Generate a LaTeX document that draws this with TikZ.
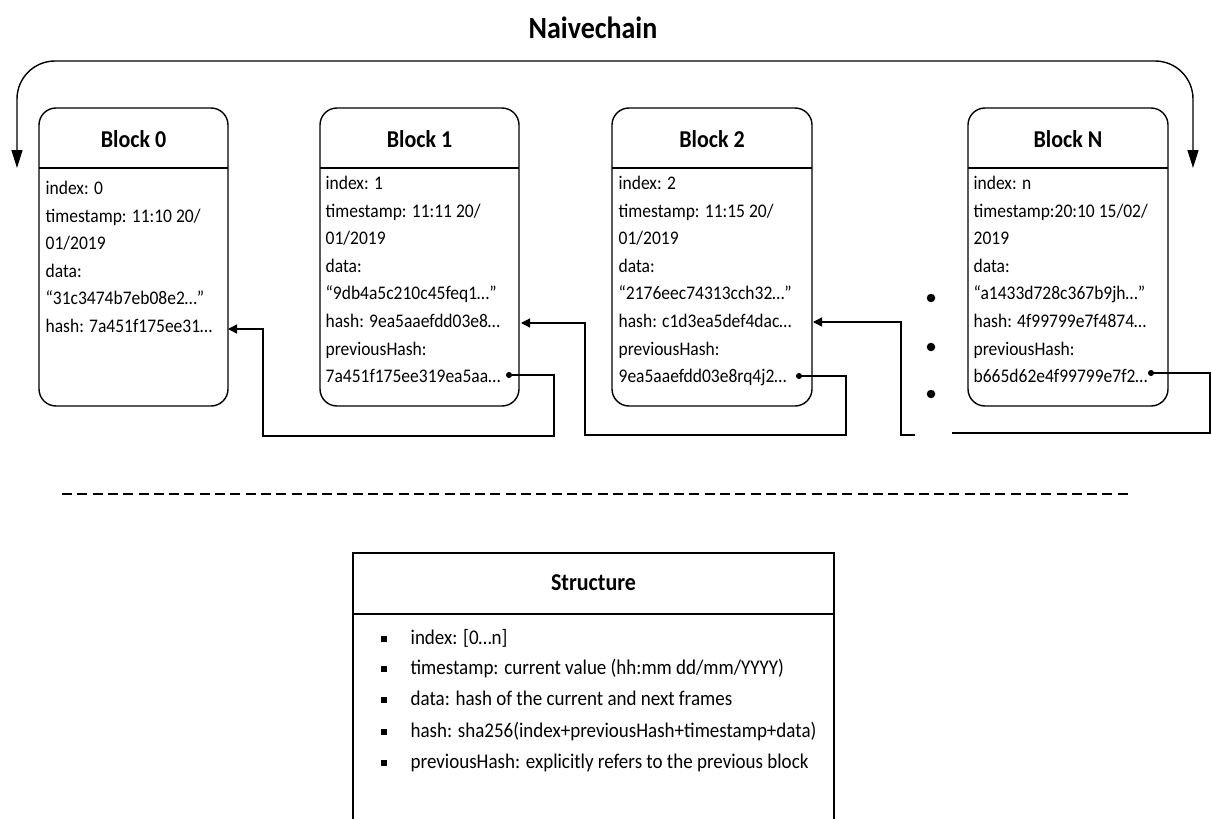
\documentclass[tikz,border=0pt]{standalone}
\usepackage{fontspec}
\usepackage{graphicx}
\setmainfont{Carlito}
\usetikzlibrary{arrows.meta}

% slightly taller lettering
\newcommand\tallbox[1]{\scalebox{1}[1.1]{#1}}
\newcommand\rows[1]{\tallbox{\begin{tabular}{@{}l@{}}#1\end{tabular}}}

\begin{document}
\begin{tikzpicture}[x=1pt,y=-1pt,
  line width=1.3pt,
  blockbox/.style={draw, rounded corners=17pt, line width=1.4pt, inner sep=0pt, outer sep=0pt,
    minimum width=#1, minimum height=298pt, anchor=north west},
  blocktitle/.style={font=\bfseries\fontsize{22}{26}\selectfont},
  blocktext/.style={anchor=north west, inner sep=0pt,
    font=\fontsize{17.5}{25.1}\selectfont},
  link/.style={line width=1.3pt, {Circle[length=6pt]}-{Triangle[length=9pt,width=9pt]}},
  linkhalf/.style={line width=1.3pt, -{Triangle[length=9pt,width=9pt]}},
  wrap/.style={line width=1.4pt, rounded corners=38pt, {Triangle[length=18pt,width=11pt]}-{Triangle[length=18pt,width=11pt]}},
  ellipsisdot/.style={fill, circle, inner sep=0pt, minimum size=8.5pt},
  bulletsq/.style={fill, inner sep=0pt, minimum size=5.5pt}
]
\useasboundingbox (0,0) rectangle (1211,819);

% title
\node[font=\bfseries\fontsize{28}{32}\selectfont] (title) at (593,28) {\tallbox{Naivechain}};

% blocks
\node[blockbox=189pt] (b0) at (39,108) {};
\node[blockbox=199pt] (b1) at (320,108) {};
\node[blockbox=200pt] (b2) at (612,108) {};
\node[blockbox=200pt] (bn) at (968,108) {};

\foreach \b in {b0,b1,b2,bn}
  \draw[line width=1.4pt] ([yshift=-60pt]\b.north west) -- ([yshift=-60pt]\b.north east);

\node[blocktitle] (t0) at ([yshift=-31pt]b0.north) {\tallbox{Block 0}};
\node[blocktitle] (t1) at ([yshift=-31pt]b1.north) {\tallbox{Block 1}};
\node[blocktitle] (t2) at ([yshift=-31pt]b2.north) {\tallbox{Block 2}};
\node[blocktitle] (tn) at ([yshift=-31pt]bn.north) {\tallbox{Block N}};

\node[blocktext] (x0) at ([xshift=6pt,yshift=-66.5pt]b0.north west)
  {\rows{index: 0\\timestamp: 11:10 20/\\01/2019\\data:\\“31c3474b7eb08e2…”\\hash: 7a451f175ee31…}};
\node[blocktext] (x1) at ([xshift=5pt,yshift=-61.5pt]b1.north west)
  {\rows{index: 1\\timestamp: 11:11 20/\\01/2019\\data:\\“9db4a5c210c45feq1…”\\hash: 9ea5aaefdd03e8…\\previousHash:\\7a451f175ee319ea5aa…}};
\node[blocktext] (x2) at ([xshift=6pt,yshift=-61.5pt]b2.north west)
  {\rows{index: 2\\timestamp: 11:15 20/\\01/2019\\data:\\“2176eec74313cch32…”\\hash: c1d3ea5def4dac…\\previousHash:\\9ea5aaefdd03e8rq4j2…}};
\node[blocktext] (xn) at ([xshift=5pt,yshift=-61.5pt]bn.north west)
  {\rows{index: n\\timestamp:20:10 15/02/\\2019\\data:\\“a1433d728c367b9jh…”\\hash: 4f99799e7f4874…\\previousHash:\\b665d62e4f99799e7f2…}};

% ports on the block rows
\coordinate (b0hash) at (228,329);
\coordinate (b1hash) at (521,323);
\coordinate (b2hash) at (813,322);
\coordinate (b1prev) at (506,375);
\coordinate (b2prev) at (796,376);
\coordinate (bnprev) at (1148,373);
\coordinate (gapL) at (915,435);
\coordinate (gapR) at (952,433);

% wrap-around arrow over the chain
\coordinate (wrapL) at (17,168);
\coordinate (wrapR) at (1193,168);
\draw[wrap] (wrapL) -- (17,61) -- (1193,61) -- (wrapR);

% previousHash links
\draw[link] (b1prev) -- (554,375) -- (554,436) -- (263,436) -- (263,329) -- (b0hash);
\draw[link] (b2prev) -- (846,376) -- (846,435) -- (585,435) -- (585,323) -- (b1hash);
\draw[linkhalf] (gapL) -- (901,435) -- (901,322) -- (b2hash);
\draw[line width=1.3pt, {Circle[length=6pt]}-] (bnprev) -- (1210,373) -- (1210,433) -- (gapR);

% ellipsis between Block 2 and Block N
\node[ellipsisdot] (d1) at (931,298) {};
\node[ellipsisdot] (d2) at (931,347) {};
\node[ellipsisdot] (d3) at (931,394) {};

% separator
\coordinate (sepL) at (62,494);
\coordinate (sepR) at (1130,494);
\draw[line width=1.3pt, dash pattern=on 10pt off 5.3pt] (sepL) -- (sepR);

% structure legend
\node[inner sep=0pt, outer sep=0pt, minimum width=481pt, minimum height=280pt, anchor=north west] (st) at (353,553) {};
\draw[line width=1.4pt] (st.south west) -- (st.north west) -- (st.north east) -- (st.south east);
\draw[line width=1.4pt] ([yshift=-61pt]st.north west) -- ([yshift=-61pt]st.north east);
\node[font=\bfseries\fontsize{22}{26}\selectfont] (sttitle) at ([yshift=-30pt]st.north) {\tallbox{Structure}};

\foreach \y/\t [count=\i] in {
  639/{index: [0…n]},
  669/{timestamp: current value (hh:mm dd/mm/YYYY)},
  700/{data: hash of the current and next frames},
  732/{hash: sha256(index+previousHash+timestamp+data)},
  763/{previousHash: explicitly refers to the previous block}} {
  \node[bulletsq] (sb\i) at (384,\y) {};
  \node[anchor=base west, inner sep=0pt, font=\fontsize{19}{23}\selectfont] (sl\i) at (410,\y+5.5) {\tallbox{\t}};
}
\end{tikzpicture}
\end{document}
